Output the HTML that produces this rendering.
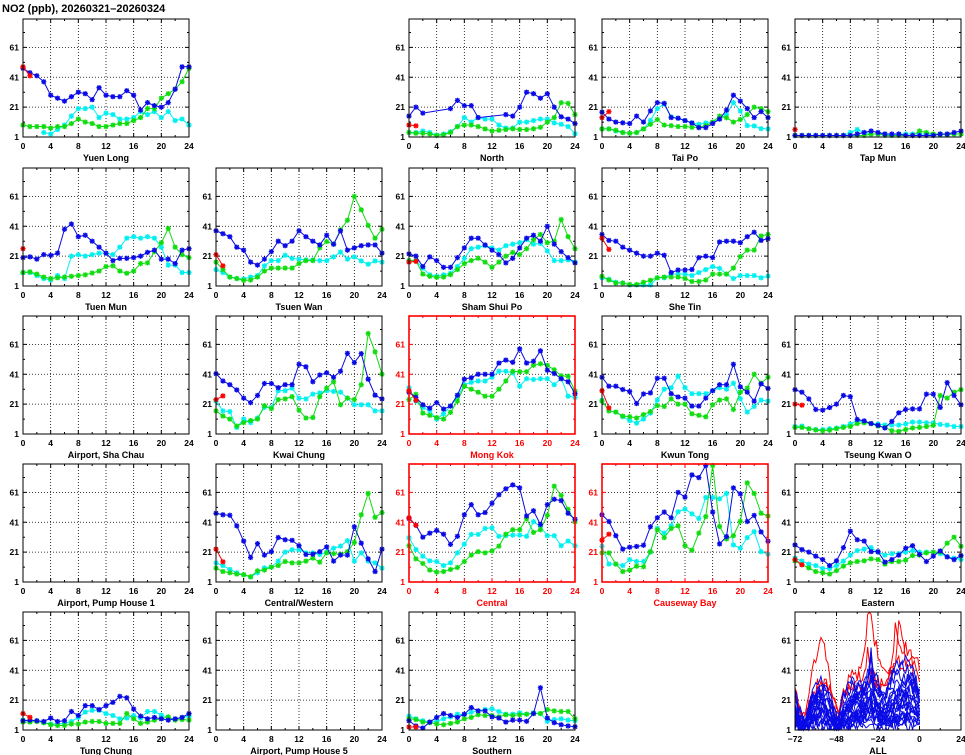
<!DOCTYPE html>
<html><head><meta charset="utf-8">
<style>
html,body{margin:0;padding:0;background:#fff;}
svg{display:block;font-family:"Liberation Sans",sans-serif;font-weight:bold;}
</style></head>
<body>
<svg id="s" width="965" height="755" viewBox="0 0 965 755" xmlns="http://www.w3.org/2000/svg">
<text x="2" y="12" font-size="11" fill="#000">NO2 (ppb), 20260321–20260324</text>
</svg>
<script>
const S=document.getElementById('s');const NS='http://www.w3.org/2000/svg';
function el(t,a,txt){const e=document.createElementNS(NS,t);for(const k in a)e.setAttribute(k,a[k]);if(txt!==undefined)e.textContent=txt;S.appendChild(e);return e;}
const cols=[23,216,409,602,795],rows=[19,168,316,464,612],W=166,H=118;
const YMAX=80;
const C={B:'#0a0ae6',C:'#00f0f0',G:'#10dd10',R:'#ff0000'};
const n=null;
const D={
"Yuen Long":{pos:[0,0],R:[48,42],
B:[47,44,42,38,29,27,25,28,31,30,26,34,29,28,28,32,29,19,24,22,21,24,33,48,48],
G:[9,8,8,8,7,8,8,10,13,11,10,8,8,9,10,10,12,14,20,20,27,30,33,38,47],
C:[n,n,n,4,3,6,9,15,20,20,21,14,17,16,13,13,14,18,16,18,14,18,12,13,9]},
"North":{pos:[0,2],R:[9,8.5],
B:[15,21,17,n,n,n,20,25.5,22,22,14,n,n,n,16,15,21,31,30,27,30,21,14.5,13,10],
C:[4,4,5,4,2.3,3,4.6,8,14,11,14,13,13,9,7,7,11,11,12,13,13,10.4,9.5,8,3.2],
G:[4,3.5,3.5,3,2,2.5,4,8,9,9,8,6.4,5,5.5,6,6.5,6,6,6.5,7.5,11,14,24,23.5,16]},
"Tai Po":{pos:[0,3],R:[14,18],
B:[17.6,13,11,10.5,10,15,11,18.5,24,23.5,14,13.6,12,10.4,7.3,7.3,10,13,19,29,25,20,14,18,14],
C:[6.4,6.4,5,4,3.5,4,6.4,12,20,23,14.5,13.6,12,10.4,9.5,10.4,11,13,16,24,18.5,8.6,8.4,6.6,6.4],
G:[6.4,6.4,5.5,4,3.5,4,6.4,9.5,12.7,9,8.6,8,8,7.5,7.5,8.6,11,15,13.9,11,12.7,16,21,20,18]},
"Tap Mun":{pos:[0,4],R:[6],
B:[2,2,2,2,2,2,2,2,2,3,4,5,4,3,3,3,2,2,2,2,2,3,3,4,5],
C:[2,2,2,2,2,2,2,2,4,6,4,3,3,3,2.5,3,3,3,3,3,2.5,2.5,3,3,3],
G:[2,2,2,2,2,2,2,2,2,2,2,3,3,2,2,2,2,2,5,4,3,3,2.5,3,3]},
"Tuen Mun":{pos:[1,0],R:[26],
B:[20,20.5,19,22,21.5,23,39,42.5,34,35,31,27,23,18,19.5,19.5,20,21,23.5,25,19,19,16,25,26],
C:[10,10,8,6,5,8,6,21,22,21,22,23,23,22,27,33,34,33,34,33,27,15,15,10,10],
G:[10,10.5,9,7,6,6.5,7,7.5,8,8.5,9.7,11,14,14.5,11,9.5,11,16,16.5,24,30,39.5,27,22,20]},
"Tsuen Wan":{pos:[1,1],R:[22,14.5],
B:[38,36,34,27,25,17,15,19,24,31,28,31,38,34,31,28.5,35,29,38,25,26.5,28,28.5,28.5,23],
C:[12,10,7,6,5.7,7,8,14.5,18,18,21.6,19.5,19,18.5,18.5,18,18,20.5,23.7,19,20.5,17.8,15.6,17.8,17],
G:[17,12,7,6,4.8,5,7,11,13,13,13,13,16,18,18,26.6,30.8,29,38.6,45,61,52,41.6,33,39]},
"Sham Shui Po":{pos:[1,2],R:[17,17.5],
B:[22.5,21,14,20.5,18,13.5,13.5,20,26.5,33,33,28.5,25,22,16.5,19.5,26.5,33,35,31,41,29,24,20,16.5],
C:[18,18,13,8.5,7.5,8.5,9.5,14,19.5,26,27,28,26.5,25,28,29,30,32,29,29.5,24.5,18,18,18.5,17],
G:[18,18,9,7.5,6.8,7,8.6,12,16,18,19.6,17,13.5,17,21,23.5,22,26,32,35.5,30,31,45.5,34,26]},
"She Tin":{pos:[1,3],R:[33,25.5],
B:[35.5,31.5,31,27,25,23,21,21,23,21.6,10,11.7,11.7,12,20,21,20,30.5,31,31,30,34,37,31.5,32.7],
C:[6.5,5.5,3.5,3,1.7,1.7,1.7,1.7,6.5,6.5,9,9,9,8,10,12,14,12.8,9,6,8,8,8,6.5,7.6],
G:[7.5,5,3,3,2,2,3.5,4.8,6.5,7,7,7,6,4,4,5,9,9,9,13,20.7,25,25,34.5,35.5]},
"Airport, Sha Chau":{pos:[2,0]},
"Kwai Chung":{pos:[2,1],R:[24,26.5],
B:[41.4,36.5,34,30.5,25,22,26.8,34.8,34.8,32,34,34,47.7,46,36,40.5,42,39,43,55,48.8,54.8,37.7,27,24.5],
C:[23,16.5,16,5.4,11,8.6,11.7,18.8,18.8,30,30,31.7,25,24.5,27.7,28.5,30,29.5,29,25,20.6,20.6,20.6,16.5,16.5],
G:[16.5,13,11,6.3,8.6,10,11,20,18,24,24.5,26,17,11.7,12,26,31.7,36,20.6,25,24,34,68.3,56,41]},
"Mong Kok":{pos:[2,2],red:1,R:[30,23.5],
B:[29,25.5,20.6,18.3,22,17.7,19.7,27,37.7,38.7,41,41,41,48.5,50.5,49,58,48.5,49.7,56.7,43.7,41.5,38,36,28],
C:[32,23,18.8,16.5,11,14.5,19.7,25.5,34,35.6,36.5,36.5,39,43,43,42,33,38,37.5,38,38,34,38.3,26.3,25.5],
G:[24,27.6,15,13.5,12,11,15.5,23,33,31,29,26.3,26.3,31,36.5,43,42.7,42.7,47,48,47,44,40,39.7,29.8]},
"Kwun Tong":{pos:[2,3],R:[30,18.5],
B:[39,33,33,30.8,29.4,21.4,27.8,28.5,38.3,38.3,28,25.8,25,19.7,19.7,25,30,34,34,47.7,32.6,29,23,34.6,31.5],
C:[23.7,16.5,15.7,12.6,10,8.3,11,15,23.7,31,32,39.7,32,28,28,28,30,32,31,35,24.7,15.7,19.4,23.7,23],
G:[23,16.5,15.7,13,12.6,11.7,14,16,20,19.4,24.5,21,21,14.5,13.5,12.5,20.6,23.7,24.5,17.4,29,31.7,41,35,39]},
"Tseung Kwan O":{pos:[2,4],R:[21,20.3],
B:[30.7,29,24.5,17.4,17,18.7,21,26.8,26,10.7,9.8,8,6.8,5,9.4,15.2,17.4,17.8,17.8,27.7,27.7,18.8,35.4,26.8,20.6],
C:[6,6.3,4.5,4,4,4.5,5,6,7.7,10,9,8,7.7,7,7,7,7.7,9,9,8.5,8.5,7.4,7,6,6],
G:[5.4,5.4,4.5,3.7,3.2,3.5,4.5,5.4,6,8,8.5,8,6.3,5.4,3.2,2.8,4,5,5.4,6,6.8,26.8,25,29,30.7]},
"Airport, Pump House 1":{pos:[3,0]},
"Central/Western":{pos:[3,1],R:[23,14.5],
B:[47,46,45.7,38.6,28.4,17.4,26.7,19,21.3,30.8,29.3,28.9,25.3,19.4,19.6,21.3,24.5,15,19,19,38,27,16.5,8,23],
C:[13.8,12,9.4,7.2,5.9,4.3,7.2,10.5,11,15,21,22.6,22.6,20.5,20.5,19.4,21,23.6,25,28.7,15,20.5,15,13.8,10.3],
G:[10.3,8,7.2,6.3,5.9,4.5,8.5,9,11,12,14.7,13.8,13.8,15,17,14.3,20.5,20,19.6,21.3,27.5,46,60.3,44.3,47.5]},
"Central":{pos:[3,2],red:1,R:[44,39],
B:[43.5,39,31,33.7,35.5,33,26.2,31.6,46,52.8,46,47.5,53.7,59.4,63.4,66,64,45.2,48.7,39.5,52.8,56.4,55.5,47,43],
C:[30.6,22.7,18.3,15.2,14.7,12,13.8,20.5,26.3,32.9,32.9,36.8,37.3,31.6,32,32.4,32.4,31.6,41.4,38.2,32,32,25.3,28.4,25.3],
G:[25.3,16.5,13.4,9,7.6,8,9.4,10.7,14.7,19,21.3,20.5,21.8,25,33,36,36,43.5,34.2,36,45.6,65.2,59,49.6,41.3]},
"Causeway Bay":{pos:[3,3],red:1,R:[29,33],
B:[46,41.5,32,23,24.3,24.8,25.6,38,44,47.8,44,61,57.8,72.7,70.9,79,47.8,26.5,31.4,64,60,41.5,45.6,34.5,28.3],
C:[24.9,13,13,12,16,14.7,14.7,21,37,33.7,38.7,48,49.8,46.6,43.5,57.6,57.6,56.7,60.3,25.8,23.6,30.7,34.7,21.3,19.6],
G:[20.5,20.5,13,8,9,11.6,11.2,21.3,36,30.7,36.8,38.6,25.3,22.2,33.7,44.8,79,38.2,29.8,32,41.6,67.4,60.3,47,45.2]},
"Eastern":{pos:[3,4],R:[16,12.5],
B:[25.8,22.7,21,18.3,16,12,15.2,24,35,29.3,28.4,21.3,21.3,14.3,16,19,23.6,25.3,19.5,14.7,18.3,21.8,17.8,16,18.7],
C:[17,15,13,12,10,10,12,15,19,22,23,24,21,19,20,20,21,22,21,21,21,20,18,17,16],
G:[15.2,12.6,10.4,8,7.2,6.3,8.6,11.6,13.8,14.7,15.2,16.5,16,13,14.7,14.7,15.6,18.7,19,20.5,21,21,27,31,24.9]},
"Tung Chung":{pos:[4,0],R:[12,9.5],
B:[7.2,7.6,7.2,6.7,9,6.7,7.2,13.4,10.7,17.3,17.3,14.7,17.3,19.5,23.5,22.6,15,10.3,8.5,9.4,8.5,7.6,8.5,9.4,12],
C:[7.6,7.2,7.2,5.9,5,5,5.4,6.7,9.4,13,14.2,14.2,12,10.7,8.5,9,10.7,9,13.4,13.4,11,9.4,8,9.4,10.3],
G:[6.3,6.3,6.7,5.9,4.5,4,4,5,5,6.3,6.7,6.7,5.4,5.4,5.4,12,8.5,5.4,6.3,7.6,8.5,9.8,7.6,8,7.6]},
"Airport, Pump House 5":{pos:[4,1]},
"Southern":{pos:[4,2],R:[3,3],
B:[7.2,3.7,2.3,6.3,9.4,12,10.7,9.4,11.6,16,13.8,13.8,9.8,9,6.3,7.6,7.6,6.8,12,29.3,9,5.9,4.5,3.7,3.2],
C:[10.3,8.5,7.2,6.3,6.8,8.5,9.8,11.6,11.2,12.9,13.8,14.7,15.2,13.4,11.6,11.6,12.5,11.6,12.5,12,6.8,8,8.5,7.6,7.2],
G:[8.5,8,6.3,5.9,5,4.5,5.4,6.3,8.5,9.4,11.2,10.7,10.7,9.8,11.2,10.7,11.2,11.6,12,12,14.7,13.8,13.4,13.4,8.5]}
};
function star(g,x,y,col){const r=2.6;const p=`M${x-r},${y}H${x+r}M${x},${y-r}V${y+r}M${x-r*0.75},${y-r*0.75}L${x+r*0.75},${y+r*0.75}M${x-r*0.75},${y+r*0.75}L${x+r*0.75},${y-r*0.75}`;el('path',{d:p,stroke:col,'stroke-width':1.3,fill:'none'});}
function frame(x0,y0,xmin,xmax,xt,red,name,xlabs){
  const fc=red?'#ff0000':'#000';const tc=red?'#ff0000':'#000';
  const X=v=>x0+(v-xmin)/(xmax-xmin)*W, Y=v=>y0+H-(v-1)/(YMAX-1)*H;
  let g='';
  xt.major.forEach(v=>{if(v>xmin&&v<xmax)g+=`M${X(v)},${y0}V${y0+H}`;});
  [21,41,61].forEach(v=>{g+=`M${x0},${Y(v)}H${x0+W}`;});
  el('path',{d:g,stroke:'#000','stroke-width':0.8,'stroke-dasharray':'1,2',fill:'none'});
  let t='';
  xt.major.forEach(v=>{t+=`M${X(v)},${y0+H}v-4M${X(v)},${y0}v4`;});
  xt.minor.forEach(v=>{t+=`M${X(v)},${y0+H}v-2M${X(v)},${y0}v2`;});
  [1,21,41,61].forEach(v=>{t+=`M${x0},${Y(v)}h4M${x0+W},${Y(v)}h-4`;});
  [11,31,51,71].forEach(v=>{t+=`M${x0},${Y(v)}h2M${x0+W},${Y(v)}h-2`;});
  el('path',{d:t,stroke:fc,'stroke-width':1,fill:'none'});
  [1,21,41,61].forEach(v=>el('text',{x:x0-4,y:Y(v)+3,'font-size':8.5,'text-anchor':'end',fill:tc},String(v)));
  xt.major.forEach((v,i)=>el('text',{x:X(v),y:y0+H+12,'font-size':8.5,'text-anchor':'middle',fill:tc},xlabs[i]));
  el('text',{x:x0+W/2,y:y0+H+24,'font-size':9,'text-anchor':'middle',fill:tc},name);
  return {X,Y,fc};
}
for(const name in D){
  const d=D[name];const x0=cols[d.pos[1]],y0=rows[d.pos[0]];
  const f=frame(x0,y0,0,24,{major:[0,4,8,12,16,20,24],minor:[2,6,10,14,18,22]},d.red,name,['0','4','8','12','16','20','24']);
  ['C','G','B','R'].forEach(k=>{
    const arr=d[k];if(!arr)return;const col=C[k];
    const pts=[];arr.forEach((v,i)=>{if(v!==null)pts.push([f.X(i),f.Y(Math.min(v,YMAX))]);});
    if(pts.length>1)el('polyline',{points:pts.map(p=>p.join(',')).join(' '),stroke:col,'stroke-width':1,fill:'none'});
    pts.forEach(p=>star(null,p[0],p[1],col));
  });
  el('rect',{x:x0,y:y0,width:W,height:H,fill:'none',stroke:f.fc,'stroke-width':d.red?1.6:1});
}
(function(){
  const x0=cols[4],y0=rows[4];
  const f=frame(x0,y0,-72,24,{major:[-72,-48,-24,0,24],minor:[-60,-36,-12,12]},0,'ALL',['−72','−48','−24','0','24']);
  const kp=[[-72,22],[-69,10],[-66,6],[-62,28],[-58,34],[-54,28],[-50,13],[-47,6],[-44,18],[-40,28],[-34,34],[-30,40],[-28,50],[-26,36],[-22,26],[-20,22],[-16,32],[-12,38],[-8,42],[-4,44],[-2,38],[0,30]];
  function base(t){for(let i=0;i<kp.length-1;i++){if(t>=kp[i][0]&&t<=kp[i+1][0]){const a=kp[i],b=kp[i+1];return a[1]+(b[1]-a[1])*(t-a[0])/(b[0]-a[0]);}}return 20;}
  let seed=7;const rnd=()=>{seed=(seed*16807)%2147483647;return seed/2147483647;};
  function line(sc,off,noise,col,spikes){
    const pts=[];const ph=rnd()*6;
    for(let t=-72;t<=0;t++){let v=base(t)*sc*(1+0.25*Math.sin(t/5+ph))+off+(rnd()-0.5)*noise;
      if(spikes)spikes.forEach(s=>{if(Math.abs(t-s[0])<=1)v+=s[1]*(1-Math.abs(t-s[0])*0.5);});
      v=Math.max(1,Math.min(YMAX,v));pts.push([f.X(t),f.Y(v)]);}
    el('polyline',{points:pts.map(p=>p.join(',')).join(' '),stroke:col,'stroke-width':1,fill:'none'});
  }
  line(1.3,3,10,C.R,[[-56,12],[-30,22],[-12,30],[-10,22]]);
  line(1.15,2,10,C.R,[[-30,20],[-14,18]]);
  line(0.95,3,10,C.R,[[-6,8]]);
  const sc=[0.08,0.12,0.18,0.22,0.28,0.32,0.36,0.4,0.45,0.5,0.52,0.55,0.6,0.62,0.66,0.7,0.75,0.8,0.85,0.9,0.95,0.3,0.25];
  sc.forEach((s,i)=>line(s,(i%3),9,C.B,i==20?[[-28,16]]:(i==19?[[-30,12]]:null)));
  el('rect',{x:x0,y:y0,width:W,height:H,fill:'none',stroke:'#000','stroke-width':1});
})();
</script>
</body></html>
